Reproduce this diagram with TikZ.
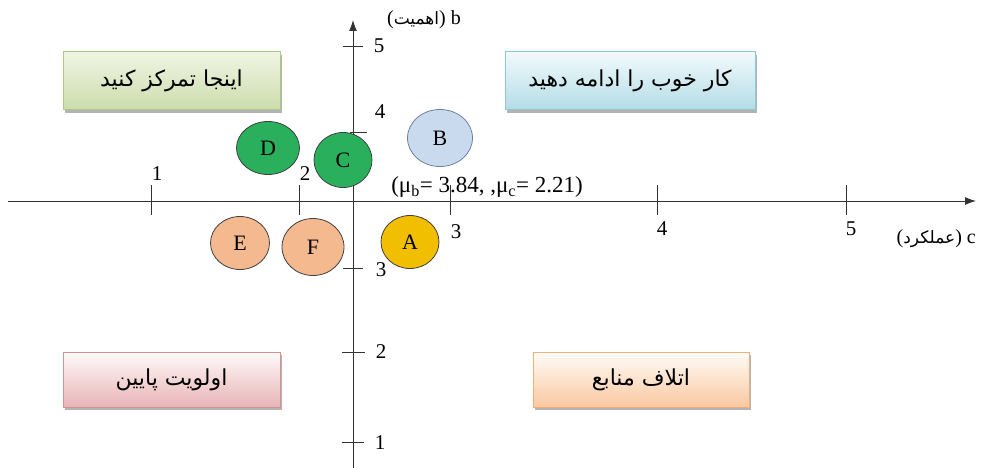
\documentclass[tikz,border=0pt]{standalone}
\usepackage{fontspec}
\setmainfont{Liberation Serif}
\newfontfamily\arabicfont[Script=Arabic]{DejaVu Sans}
\TeXXeTstate=1
\usetikzlibrary{arrows.meta,shapes.geometric,shadows}
\definecolor{cgreen}{RGB}{42,176,92}
\definecolor{cpeach}{RGB}{244,185,143}
\definecolor{cgold}{RGB}{242,190,0}
\definecolor{cblue}{RGB}{201,217,238}
\definecolor{bblue}{RGB}{110,128,160}
\definecolor{gtop}{RGB}{240,245,228}
\definecolor{gbot}{RGB}{204,220,172}
\definecolor{gbrd}{RGB}{175,200,135}
\definecolor{btop}{RGB}{242,250,252}
\definecolor{bbot}{RGB}{180,220,230}
\definecolor{bbrd}{RGB}{140,200,215}
\definecolor{ptop}{RGB}{255,250,250}
\definecolor{pbot}{RGB}{232,180,182}
\definecolor{pbrd}{RGB}{215,145,145}
\definecolor{otop}{RGB}{255,252,248}
\definecolor{obot}{RGB}{250,200,160}
\definecolor{obrd}{RGB}{240,175,120}
\begin{document}
\begin{tikzpicture}[x=1pt,y=-1pt,
  axis/.style={line width=0.9pt,black!80},
  tick/.style={line width=0.9pt,black!80},
  num/.style={font=\fontsize{21}{22}\selectfont,inner sep=0pt},
  blob/.style={ellipse,draw=black!75,line width=0.8pt,inner sep=0pt,font=\fontsize{22}{24}\selectfont},
  quad/.style={rectangle,inner sep=0pt,line width=1pt,font=\arabicfont\fontsize{22}{26}\selectfont,
     drop shadow={shadow xshift=1.5pt,shadow yshift=-3pt,fill=black!50,opacity=0.6}},
  ]
\useasboundingbox (0,0) rectangle (985,468);
% axes
\coordinate (xs) at (8,201);
\coordinate (xe) at (976,201);
\coordinate (ys) at (353,468);
\coordinate (ye) at (353,20);
\draw[axis,-{Latex[length=11pt,width=8pt]}] (xs) -- (xe);
\draw[axis,-{Latex[length=11pt,width=8pt]}] (ys) -- (ye);
% horizontal ticks
\foreach \x in {151,299,450,657,846} \draw[tick] (\x,185) -- (\x,215);
% vertical ticks
\draw[tick] (343,46) -- (363,46);
\draw[tick] (350,132) -- (367,132);
\draw[tick] (343,268) -- (363,268);
\draw[tick] (342,352) -- (365,352);
\draw[tick] (342,442) -- (364,442);
% tick labels
\node[num] (h1) at (157,174) {1};
\node[num] (h2) at (305,174) {2};
\node[num] (h3) at (456,232) {3};
\node[num] (h4) at (662,229) {4};
\node[num] (h5) at (851,229) {5};
\node[num] (v5) at (379,46) {5};
\node[num] (v4) at (380,112) {4};
\node[num] (v3) at (381,270) {3};
\node[num] (v2) at (381,352) {2};
\node[num] (v1) at (380,443) {1};
% axis labels
\node[inner sep=0pt,anchor=east,font=\fontsize{20}{22}\selectfont] (blab) at (461,20)
  {({\arabicfont\fontsize{17}{20}\selectfont\beginR اهمیت\endR}) b};
\node[inner sep=0pt,anchor=east,font=\fontsize{20}{22}\selectfont] (clab) at (976,239)
  {({\arabicfont\fontsize{17}{20}\selectfont\beginR عملکرد\endR}) c};
\node[inner sep=0pt,font=\fontsize{23}{24}\selectfont] (mu) at (487,187)
  {(μ\textsubscript{b}= 3.84, ,μ\textsubscript{c}= 2.21)};
% quadrant boxes
\node[quad,minimum width=217pt,minimum height=58pt,draw=gbrd,
  top color=gtop,bottom color=gbot] (q1) at (171.5,81)
  {\beginR اینجا تمرکز کنید\endR};
\node[quad,minimum width=250pt,minimum height=58pt,draw=bbrd,
  top color=btop,bottom color=bbot] (q2) at (630,81)
  {\beginR کار خوب را ادامه دهید\endR};
\node[quad,minimum width=217pt,minimum height=55pt,draw=pbrd,
  top color=ptop,bottom color=pbot] (q3) at (171.5,379.5)
  {\beginR اولویت پایین\endR};
\node[quad,minimum width=216pt,minimum height=55pt,draw=obrd,
  top color=otop,bottom color=obot] (q4) at (641,379.5)
  {\beginR اتلاف منابع\endR};
% blobs
\node[blob,fill=cgreen,minimum width=63pt,minimum height=53pt] (D) at (268,148) {D};
\node[blob,fill=cgreen,minimum width=58pt,minimum height=55pt] (C) at (343,160) {C};
\node[blob,fill=cblue,draw=bblue,minimum width=65pt,minimum height=57pt] (B) at (440,138) {B};
\node[blob,fill=cpeach,minimum width=59pt,minimum height=53pt] (E) at (240,243) {E};
\node[blob,fill=cpeach,minimum width=62pt,minimum height=57pt] (F) at (313,247) {F};
\node[blob,fill=cgold,minimum width=58pt,minimum height=53pt] (A) at (410,242) {A};
\end{tikzpicture}
\end{document}
